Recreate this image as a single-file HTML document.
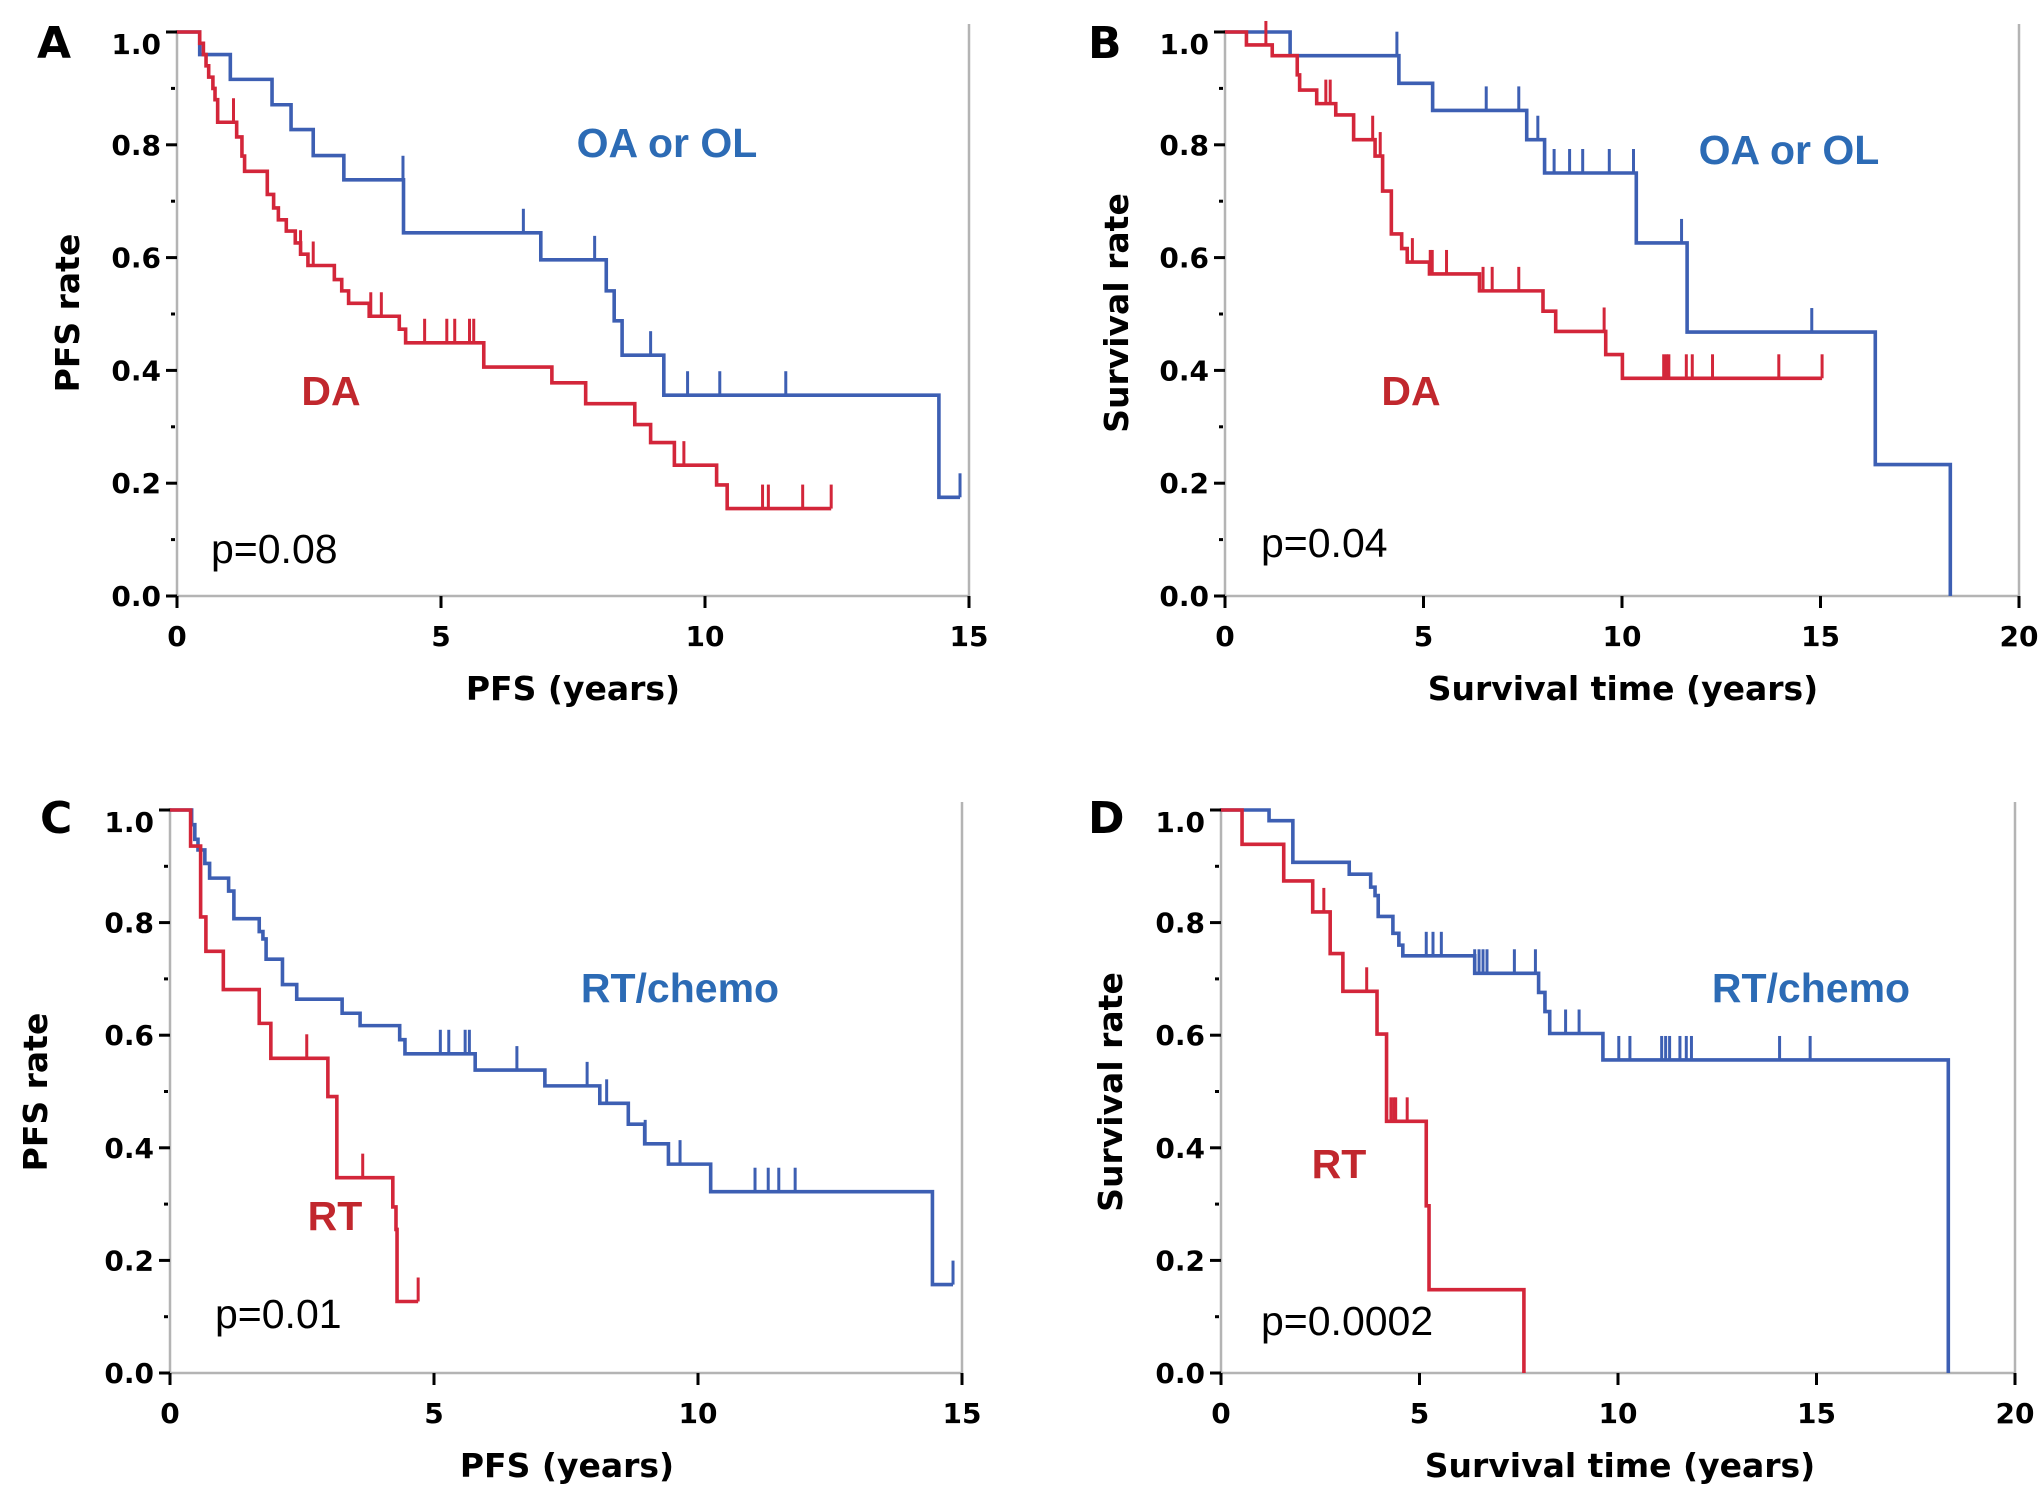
<!DOCTYPE html>
<html><head><meta charset="utf-8">
<style>
html,body{margin:0;padding:0;background:#fff;}
svg{display:block;}
.tk{font-family:"DejaVu Sans","Liberation Sans",sans-serif;font-size:28px;font-weight:bold;fill:#000;}
.ttl{font-family:"DejaVu Sans","Liberation Sans",sans-serif;font-size:33px;font-weight:bold;fill:#000;}
.lg{font-family:"Liberation Sans",sans-serif;font-size:41px;font-weight:bold;}
.pv{font-family:"Liberation Sans",sans-serif;font-size:41px;fill:#000;}
.pl{font-family:"DejaVu Sans","Liberation Sans",sans-serif;font-size:44px;font-weight:bold;fill:#000;}
</style></head>
<body>
<svg id="fig" width="2043" height="1504" viewBox="0 0 2043 1504" xmlns="http://www.w3.org/2000/svg"></svg>
<script>
// Panel A: PFS by histology
const aBlueT=[0.43,1.01,1.8,2.16,2.58,3.16,4.29,6.89,8.13,8.28,8.43,9.22,14.43];
const aBlueS=[0.96,0.916,0.871,0.827,0.781,0.738,0.644,0.596,0.541,0.488,0.427,0.356,0.175];
const aBlueC=[4.28,6.56,7.91,8.97,9.67,10.28,11.53,14.83];
const aRedT=[0.43,0.5,0.55,0.6,0.68,0.72,0.77,1.13,1.23,1.28,1.71,1.83,1.92,2.07,2.24,2.34,2.48,2.98,3.12,3.25,3.64,4.21,4.33,5.81,7.1,7.74,8.67,8.97,9.42,10.22,10.42];
const aRedS=[0.98,0.96,0.94,0.92,0.9,0.88,0.84,0.814,0.78,0.753,0.712,0.688,0.667,0.647,0.626,0.606,0.586,0.561,0.541,0.519,0.496,0.473,0.449,0.406,0.378,0.341,0.304,0.272,0.232,0.197,0.155];
const aRedC=[1.07,2.34,2.58,3.67,3.87,4.69,5.11,5.26,5.54,5.62,9.6,11.09,11.2,11.85,12.39];
// Panel B: OS by histology
const bBlueT=[1.64,4.38,5.23,7.6,8.05,10.36,11.64,16.38,18.27];
const bBlueS=[0.958,0.909,0.861,0.809,0.75,0.626,0.468,0.233,0];
const bBlueC=[4.33,6.58,7.4,7.88,8.29,8.68,9.01,9.68,10.29,11.5,14.78];
const bRedT=[0.54,1.19,1.82,1.88,2.31,2.79,3.24,3.78,3.97,4.19,4.45,4.59,5.15,6.41,8.01,8.33,9.59,10.01];
const bRedS=[0.977,0.958,0.924,0.897,0.873,0.853,0.809,0.78,0.718,0.642,0.616,0.592,0.571,0.541,0.505,0.469,0.428,0.386];
const bRedC=[1.03,2.54,2.65,3.72,3.91,4.72,5.17,5.22,5.58,6.5,6.73,7.4,9.55,11.05,11.12,11.18,11.62,11.77,12.28,13.95,15.04];
// Panel C: PFS by treatment
const cBlueT=[0.41,0.47,0.53,0.66,0.75,1.11,1.21,1.69,1.76,1.82,2.13,2.4,3.26,3.6,4.35,4.45,5.78,7.1,8.14,8.68,8.99,9.44,10.24,14.44];
const cBlueS=[0.974,0.948,0.929,0.905,0.879,0.856,0.807,0.784,0.771,0.735,0.69,0.664,0.639,0.617,0.592,0.567,0.538,0.51,0.479,0.442,0.407,0.371,0.322,0.157];
const cBlueC=[5.12,5.28,5.59,5.67,6.57,7.9,8.27,9.0,9.66,11.08,11.33,11.53,11.84,14.83];
const cRedT=[0.39,0.58,0.68,1.01,1.69,1.91,2.99,3.16,4.22,4.28,4.3];
const cRedS=[0.936,0.81,0.749,0.681,0.621,0.559,0.491,0.347,0.295,0.255,0.127];
const cRedC=[2.59,3.65,4.7];
// Panel D: OS by treatment
const dBlueT=[1.21,1.81,3.23,3.77,3.88,3.96,4.33,4.48,4.58,6.39,8.0,8.16,8.28,9.62,18.32];
const dBlueS=[0.981,0.907,0.886,0.863,0.848,0.811,0.781,0.76,0.741,0.71,0.676,0.642,0.603,0.556,0];
const dBlueC=[5.17,5.34,5.55,6.39,6.5,6.6,6.7,7.39,7.92,8.68,9.02,10.02,10.3,11.1,11.2,11.3,11.56,11.72,11.85,14.07,14.84];
const dRedT=[0.53,1.58,2.31,2.75,3.07,3.93,4.17,5.17,5.24,7.63];
const dRedS=[0.939,0.874,0.819,0.745,0.678,0.602,0.447,0.297,0.148,0];
const dRedC=[2.59,3.67,4.28,4.35,4.4,4.69];
const xTicks15=[0,5,10,15];
const xTicks20=[0,5,10,15,20];
const yTicks=[0,0.2,0.4,0.6,0.8,1.0];

const NS='http://www.w3.org/2000/svg';
const svg=document.getElementById('fig');
const BLUE='#3d5fb3', RED='#d3263a';
function mk(tag,attrs,parent){const e=document.createElementNS(NS,tag);for(const k in attrs)e.setAttribute(k,attrs[k]);(parent||svg).appendChild(e);return e;}

function panel(p){
  const g=mk('g',{});
  
  
  const sx=t=>p.x0+(p.x1-p.x0)*t/p.xmax;
  const sy=v=>p.y0-(p.y0-p.y1)*v;
  const ax=mk('path',{d:`M${p.x0} ${p.y1-2}V${p.y0}H${p.x1}V${p.y1-8}`,fill:'none',stroke:'#b4b4b4','stroke-width':2.5},g);
  
  
  p.xt.forEach(t=>{
    const l=mk('line',{x1:sx(t),x2:sx(t),y1:p.y0,y2:p.y0+12,stroke:'#000','stroke-width':3},g);
    
    
    const tx=mk('text',{x:sx(t),y:p.y0+50,'text-anchor':'middle',class:'tk'},g);
    tx.textContent=String(t);
    
    
  });
  for(let i=1;i<10;i+=2){
    const m=mk('line',{x1:p.x0-6,x2:p.x0-2,y1:sy(i/10),y2:sy(i/10),stroke:'#000','stroke-width':3},g);
    
    
  }
  yTicks.forEach(v=>{
    const l=mk('line',{x1:p.x0-11,x2:p.x0,y1:sy(v),y2:sy(v),stroke:'#000','stroke-width':3},g);
    
    
    const tx=mk('text',{x:p.x0-16,y:sy(v)+(v===1?22:10),'text-anchor':'end',class:'tk'},g);
    tx.textContent=v.toFixed(1);
    
    
  });
  p.series.forEach(s=>{
    let d=`M${sx(0)} ${sy(1)}`;
    let lastT=0;
    s.t.forEach((t,i)=>{d+=`H${sx(t)}V${sy(s.s[i])}`;lastT=t;});
    const endT=Math.max(lastT,...s.c);
    if(s.s[s.s.length-1]>0) d+=`H${sx(endT)}`;
    const path=mk('path',{d:d,fill:'none',stroke:s.col,'stroke-width':3.6},g);
    
    
    s.c.forEach(ct=>{
      let v=1;
      s.t.forEach((t,i)=>{if(t<=ct)v=s.s[i];});
      const c=mk('line',{x1:sx(ct),x2:sx(ct),y1:sy(v),y2:sy(v)-24,stroke:s.col,'stroke-width':3},g);
      
      
    });
  });
  const L=mk('text',{x:p.lx,y:p.ly,class:'pl'},g);L.textContent=p.id;
  
  
  const xt=mk('text',{x:p.xtx,y:p.y0+104,'text-anchor':'middle',class:'ttl'},g);xt.textContent=p.xtitle;
  
  
  const yt=mk('text',{x:0,y:0,'text-anchor':'middle',class:'ttl',transform:`translate(${p.ytx},${p.yty}) rotate(-90)`},g);yt.textContent=p.ytitle;
  
  
  p.labels.forEach(lb=>{
    const t=mk('text',{x:lb.x,y:lb.y,'text-anchor':'middle',class:'lg',fill:lb.col},g);t.textContent=lb.txt;
    
    
  });
  const pv=mk('text',{x:p.px,y:p.py,class:'pv'},g);pv.textContent=p.pval;
  
  
}

panel({id:'A',x0:177,x1:969,xmax:15,y0:596,y1:32,xt:xTicks15,lx:37,ly:58,xtitle:'PFS (years)',xtx:573,ytitle:'PFS rate',ytx:79,yty:313,px:211,py:563,pval:'p=0.08',
  series:[{name:'oa-ol',col:BLUE,t:aBlueT,s:aBlueS,c:aBlueC},{name:'da',col:RED,t:aRedT,s:aRedS,c:aRedC}],
  labels:[{txt:'OA or OL',x:667,y:157,col:'#2c6bb5',name:'legend-oa-ol'},{txt:'DA',x:331,y:405,col:'#c1272d',name:'legend-da'}]});
panel({id:'B',x0:1225,x1:2019,xmax:20,y0:596,y1:32,xt:xTicks20,lx:1088,ly:58,xtitle:'Survival time (years)',xtx:1623,ytitle:'Survival rate',ytx:1128,yty:313,px:1261,py:557,pval:'p=0.04',
  series:[{name:'oa-ol',col:BLUE,t:bBlueT,s:bBlueS,c:bBlueC},{name:'da',col:RED,t:bRedT,s:bRedS,c:bRedC}],
  labels:[{txt:'OA or OL',x:1789,y:164,col:'#2c6bb5',name:'legend-oa-ol'},{txt:'DA',x:1411,y:405,col:'#c1272d',name:'legend-da'}]});
panel({id:'C',x0:170,x1:962,xmax:15,y0:1373,y1:810,xt:xTicks15,lx:40,ly:833,xtitle:'PFS (years)',xtx:567,ytitle:'PFS rate',ytx:47,yty:1092,px:215,py:1328,pval:'p=0.01',
  series:[{name:'rt-chemo',col:BLUE,t:cBlueT,s:cBlueS,c:cBlueC},{name:'rt',col:RED,t:cRedT,s:cRedS,c:cRedC}],
  labels:[{txt:'RT/chemo',x:680,y:1002,col:'#2c6bb5',name:'legend-rt-chemo'},{txt:'RT',x:335,y:1230,col:'#c1272d',name:'legend-rt'}]});
panel({id:'D',x0:1221,x1:2015,xmax:20,y0:1373,y1:810,xt:xTicks20,lx:1088,ly:833,xtitle:'Survival time (years)',xtx:1620,ytitle:'Survival rate',ytx:1122,yty:1092,px:1261,py:1335,pval:'p=0.0002',
  series:[{name:'rt-chemo',col:BLUE,t:dBlueT,s:dBlueS,c:dBlueC},{name:'rt',col:RED,t:dRedT,s:dRedS,c:dRedC}],
  labels:[{txt:'RT/chemo',x:1811,y:1002,col:'#2c6bb5',name:'legend-rt-chemo'},{txt:'RT',x:1339,y:1178,col:'#c1272d',name:'legend-rt'}]});
</script>
</body></html>
